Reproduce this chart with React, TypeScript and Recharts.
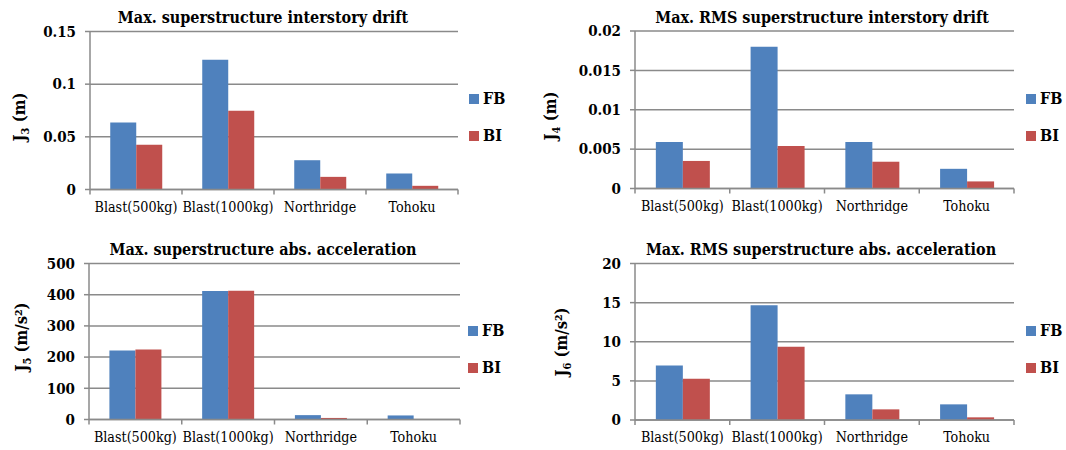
import React from 'react';
import { BarChart, Bar, XAxis, YAxis, CartesianGrid, Legend } from 'recharts';

const categories = ['Blast(500kg)', 'Blast(1000kg)', 'Northridge', 'Tohoku'];
const seriesNames = ['FB', 'BI'];

const j3FB = [0.0635, 0.1232, 0.0278, 0.0152];
const j3BI = [0.0426, 0.0748, 0.012, 0.0035];
const j3Ticks = [0, 0.05, 0.1, 0.15];

const j4FB = [0.0059, 0.018, 0.0059, 0.0025];
const j4BI = [0.0035, 0.0054, 0.0034, 0.0009];
const j4Ticks = [0, 0.005, 0.01, 0.015, 0.02];

const j5FB = [221, 412, 14, 13];
const j5BI = [224, 413, 5, 1];
const j5Ticks = [0, 100, 200, 300, 400, 500];

const j6FB = [6.98, 14.68, 3.28, 2.0];
const j6BI = [5.28, 9.36, 1.36, 0.34];
const j6Ticks = [0, 5, 10, 15, 20];

const FONT = '"DejaVu Serif Condensed", "DejaVu Serif", serif';
const FB_COLOR = '#4F81BD';
const BI_COLOR = '#C0504D';
const GRID = '#8a8a8a';
const X_TICK_MARGIN = 12;

const build = (fb: number[], bi: number[]) =>
  categories.map((c, i) => ({ cat: c, FB: fb[i], BI: bi[i] }));

const CatTick = (props: any) => {
  const { x, y, payload, index, visibleTicksCount, width } = props;
  const n = visibleTicksCount || categories.length;
  const band = width ? width / n : (payload.offset || 0) * 2;
  const axisY = y - X_TICK_MARGIN;
  const xs = [x - band / 2];
  if (index === n - 1) xs.push(x + band / 2);
  return (
    <g>
      {xs.map((lx, k) => (
        <line key={k} x1={lx} x2={lx} y1={axisY} y2={axisY + 5} stroke={GRID} strokeWidth={1.5} />
      ))}
      <text x={x} y={y} dy="0.71em" textAnchor="middle" style={{ fontFamily: FONT }} fontSize={14.2} fill="#000">
        {payload.value}
      </text>
    </g>
  );
};

const LegendContent = (props: any) => {
  const payload = [...(props.payload || [])].sort(
    (a: any, b: any) => seriesNames.indexOf(a.value) - seriesNames.indexOf(b.value)
  );
  return (
    <div style={{ fontFamily: FONT, fontWeight: 'bold', fontSize: 16 }}>
      {payload.map((e: any, i: number) => (
        <div key={i} style={{ display: 'flex', alignItems: 'center', height: 37, whiteSpace: 'nowrap' }}>
          <span style={{ display: 'inline-block', width: 10, height: 10, background: e.color, marginRight: 4 }} />
          <span style={{ lineHeight: '16px' }}>{e.value}</span>
        </div>
      ))}
    </div>
  );
};

type PanelCfg = {
  left: number;
  top: number;
  title: string;
  titleCx: number;
  titleTop: number;
  sub: string;
  unit: string;
  fb: number[];
  bi: number[];
  ticks: number[];
  margin: { top: number; right: number; bottom: number; left: number };
  labelX: number;
  labelY: number;
  legendLeft: number;
  legendTop: number;
};

const W = 533;
const H = 225;

const panels: PanelCfg[] = [
  {
    left: 0, top: 0, title: 'Max. superstructure interstory drift', titleCx: 263, titleTop: 8.5,
    sub: '3', unit: ' (m)', fb: j3FB, bi: j3BI, ticks: j3Ticks,
    margin: { top: 31.5, right: 75, bottom: 5.5, left: 30 },
    labelX: 25, labelY: 117, legendLeft: 469, legendTop: 80.5,
  },
  {
    left: 533, top: 0, title: 'Max. RMS superstructure interstory drift', titleCx: 822, titleTop: 8.5,
    sub: '4', unit: ' (m)', fb: j4FB, bi: j4BI, ticks: j4Ticks,
    margin: { top: 31, right: 52, bottom: 6.5, left: 42 },
    labelX: 23, labelY: 116, legendLeft: 493, legendTop: 80.5,
  },
  {
    left: 0, top: 225, title: 'Max. superstructure abs. acceleration', titleCx: 263, titleTop: 240.5,
    sub: '5', unit: ' (m/s\u00B2)', fb: j5FB, bi: j5BI, ticks: j5Ticks,
    margin: { top: 38.5, right: 73, bottom: 0.5, left: 29 },
    labelX: 27, labelY: 112, legendLeft: 468, legendTop: 87,
  },
  {
    left: 533, top: 225, title: 'Max. RMS superstructure abs. acceleration', titleCx: 821, titleTop: 240.5,
    sub: '6', unit: ' (m/s\u00B2)', fb: j6FB, bi: j6BI, ticks: j6Ticks,
    margin: { top: 38.5, right: 52, bottom: 0, left: 42 },
    labelX: 34, labelY: 117, legendLeft: 493, legendTop: 87,
  },
];

const Panel = ({ p }: { p: PanelCfg }) => {
  const data = build(p.fb, p.bi);
  const max = p.ticks[p.ticks.length - 1];
  const yLabel = () => (
    <text
      transform={`translate(${p.labelX},${p.labelY}) rotate(-90)`}
      textAnchor="middle"
      style={{ fontFamily: FONT }}
      fontWeight="bold"
      fontSize={16.5}
      fill="#000"
    >
      J
      <tspan fontSize={11} dy={4}>{p.sub}</tspan>
      <tspan dy={-4}>{p.unit}</tspan>
    </text>
  );
  return (
    <>
      <div
        style={{
          position: 'absolute', left: p.titleCx - 300, top: p.titleTop, width: 600, textAlign: 'center',
          fontFamily: FONT, fontWeight: 'bold', fontSize: 16, lineHeight: '18px', color: '#000',
        }}
      >
        {p.title}
      </div>
      <div style={{ position: 'absolute', left: p.left, top: p.top, width: W, height: H }}>
        <BarChart width={W} height={H} data={data} margin={p.margin} barCategoryGap="22%" barGap={0}>
          <CartesianGrid vertical={false} stroke={GRID} strokeWidth={1.5} />
          <XAxis
            dataKey="cat"
            interval={0}
            tickLine={false}
            tickSize={0}
            tickMargin={X_TICK_MARGIN}
            height={30}
            axisLine={{ stroke: GRID, strokeWidth: 1.5 }}
            tick={<CatTick />}
          />
          <YAxis
            width={60}
            domain={[0, max]}
            ticks={p.ticks}
            interval={0}
            tickSize={5}
            tickMargin={9}
            tickLine={{ stroke: GRID, strokeWidth: 1.5 }}
            axisLine={{ stroke: GRID, strokeWidth: 1.5 }}
            tick={{ style: { fontFamily: FONT }, fontWeight: 'bold', fontSize: 15, fill: '#000' }}
            label={{ content: yLabel }}
          />
          <Legend
            layout="horizontal"
            verticalAlign="middle"
            align="center"
            content={<LegendContent />}
            wrapperStyle={{ left: p.legendLeft, top: p.legendTop, width: 'auto' }}
          />
          <Bar dataKey="FB" name={seriesNames[0]} fill={FB_COLOR} isAnimationActive={false} />
          <Bar dataKey="BI" name={seriesNames[1]} fill={BI_COLOR} isAnimationActive={false} />
        </BarChart>
      </div>
    </>
  );
};

export default function App() {
  return (
    <div style={{ position: 'absolute', left: 0, top: 0, width: 1066, height: 450, background: '#fff', overflow: 'hidden' }}>
      {panels.map((p, i) => (
        <Panel key={i} p={p} />
      ))}
    </div>
  );
}
